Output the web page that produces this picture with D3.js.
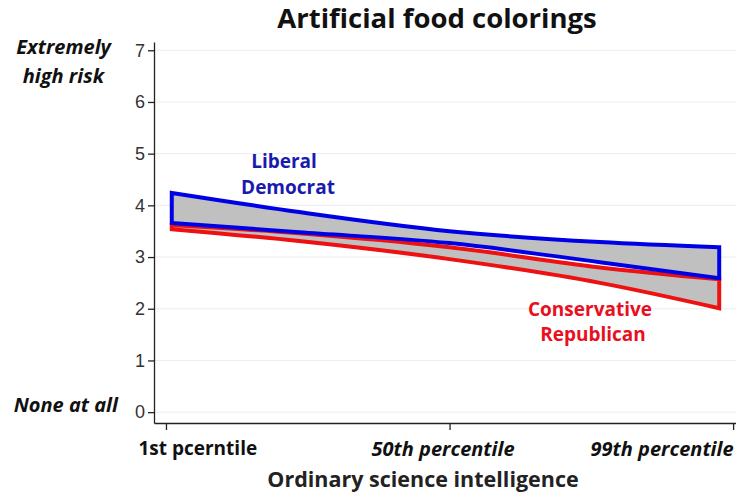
<!DOCTYPE html>
<html>
<head>
<meta charset="utf-8">
<script src="https://cdn.jsdelivr.net/npm/d3@7"></script>
<style>
  body { margin: 0; background: #fff; }
  text { font-family: "Open Sans", "Liberation Sans", sans-serif; }
</style>
</head>
<body>
<script>
// percentiles of ordinary science intelligence where the fits were read
const percentiles = [2, 24, 50, 76, 96.6];
// Liberal Democrat band (upper / lower bound of the estimate)
const demUpper = [4.24, 3.87, 3.50, 3.29, 3.19];
const demLower = [3.66, 3.48, 3.27, 2.90, 2.59];
// Conservative Republican band
const repUpper = [3.62, 3.46, 3.19, 2.80, 2.57];
const repLower = [3.54, 3.31, 2.96, 2.50, 2.01];

const yTicks = [0, 1, 2, 3, 4, 5, 6, 7];
const xTicks = [1, 50, 99];
const xTickLabels = ["1st pcerntile", "50th percentile", "99th percentile"];

const width = 736, height = 493;

const svg = d3.select("body").append("svg")
  .attr("width", width)
  .attr("height", height);

const xScale = d3.scaleLinear()
  .domain([-1.07, 99.5])
  .range([154, 736]);

const yScale = d3.scaleLinear()
  .domain([-0.21, 7.16])
  .range([423, 42]);

// faint grid
svg.append("g")
  .selectAll("line")
  .data(yTicks)
  .enter()
  .append("line")
  .attr("x1", 155)
  .attr("x2", width)
  .attr("y1", d => yScale(d))
  .attr("y2", d => yScale(d))
  .attr("stroke", "#ececec")
  .attr("stroke-width", 1);

const band = (upper, lower) => d3.area()
  .x((d, i) => xScale(percentiles[i]))
  .y0((d, i) => yScale(lower[i]))
  .y1((d, i) => yScale(upper[i]))
  .curve(d3.curveMonotoneX)(percentiles);

svg.append("path")
  .attr("d", band(repUpper, repLower))
  .attr("fill", "#c0c0c0")
  .attr("stroke", "#ee1111")
  .attr("stroke-width", 4)
  .attr("stroke-linejoin", "miter");

svg.append("path")
  .attr("d", band(demUpper, demLower))
  .attr("fill", "#c0c0c0")
  .attr("stroke", "#0000e6")
  .attr("stroke-width", 4)
  .attr("stroke-linejoin", "miter");

// axes
const yAxis = d3.axisLeft(yScale)
  .tickValues(yTicks)
  .tickSizeInner(6)
  .tickSizeOuter(0)
  .tickPadding(3);

const yG = svg.append("g")
  .attr("transform", "translate(154,0)")
  .call(yAxis);

yG.selectAll("text")
  .style("font-family", "'Liberation Sans', Arial, sans-serif")
  .style("font-size", "18px")
  .attr("fill", "#333");

const xAxis = d3.axisBottom(xScale)
  .tickValues(xTicks)
  .tickSizeInner(7)
  .tickSizeOuter(0)
  .tickFormat((d, i) => xTickLabels[i]);

const xG = svg.append("g")
  .attr("transform", "translate(0,423)")
  .call(xAxis);

xG.selectAll("text")
  .attr("y", 19)
  .style("font-size", (d, i) => i === 0 ? "19px" : "20px")
  .style("font-weight", "bold")
  .attr("fill", "#111")
  .style("font-style", (d, i) => i === 0 ? "normal" : "italic")
  .attr("text-anchor", (d, i) => i === 0 ? "start" : i === 1 ? "middle" : "end")
  .attr("dx", (d, i) => i === 0 ? -28 : i === 1 ? -7 : 0);

svg.selectAll(".domain, .tick line")
  .attr("stroke", "#222")
  .attr("stroke-width", 1.3);

// titles
svg.append("text")
  .attr("x", 437)
  .attr("y", 28)
  .attr("text-anchor", "middle")
  .style("font-size", "27.5px")
  .style("font-weight", "bold")
  .attr("fill", "#111")
  .text("Artificial food colorings");

svg.append("text")
  .attr("x", 423)
  .attr("y", 487)
  .attr("text-anchor", "middle")
  .style("font-size", "21.5px")
  .style("font-weight", "bold")
  .attr("fill", "#222")
  .text("Ordinary science intelligence");

const sideLabels = [
  {t: "Extremely", x: 111, y: 54},
  {t: "high risk", x: 104, y: 83},
  {t: "None at all", x: 118, y: 412}
];

svg.selectAll(".side")
  .data(sideLabels)
  .enter()
  .append("text")
  .attr("class", "side")
  .attr("x", d => d.x)
  .attr("y", d => d.y)
  .attr("text-anchor", "end")
  .style("font-size", "20px")
  .style("font-weight", "bold")
  .style("font-style", "italic")
  .attr("fill", "#111")
  .text(d => d.t);

const seriesLabels = [
  {t: "Liberal", x: 284, y: 168, c: "#1a1ab0"},
  {t: "Democrat", x: 288, y: 194, c: "#1a1ab0"},
  {t: "Conservative", x: 590, y: 316, c: "#e8101e"},
  {t: "Republican", x: 593, y: 341, c: "#e8101e"}
];

svg.selectAll(".lab")
  .data(seriesLabels)
  .enter()
  .append("text")
  .attr("class", "lab")
  .attr("x", d => d.x)
  .attr("y", d => d.y)
  .attr("text-anchor", "middle")
  .style("font-size", "19px")
  .style("font-weight", "bold")
  .attr("fill", d => d.c)
  .text(d => d.t);
</script>
</body>
</html>
